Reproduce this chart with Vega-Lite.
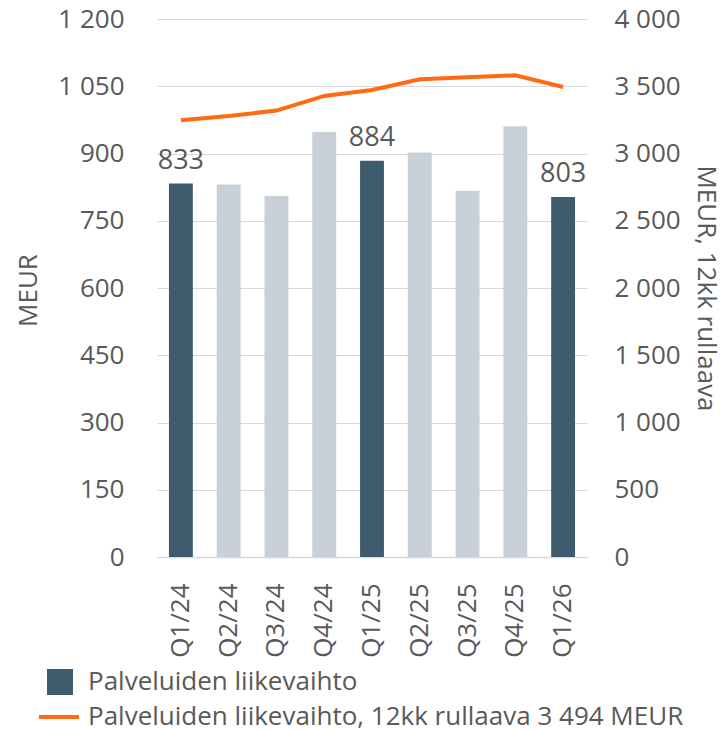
{
  "$schema": "https://vega.github.io/schema/vega-lite/v6.json",
  "width": 430,
  "height": 538,
  "autosize": {"type": "none"},
  "padding": {"left": 157, "top": 19, "right": 138, "bottom": 174},
  "config": {
    "font": "Open Sans",
    "view": {"stroke": null},
    "axis": {"labelFont": "Open Sans", "titleFont": "Open Sans", "labelColor": "#595959", "titleColor": "#595959", "labelFontSize": 26, "titleFontSize": 26, "titleFontWeight": "normal"},
    "legend": {"labelFont": "Open Sans", "labelFontSize": 26, "labelColor": "#595959", "labelLimit": 0}
  },
  "data": {"values": [
    {"q": "Q1/24", "v": 833, "r": 3247, "cat": "Palveluiden liikevaihto"},
    {"q": "Q2/24", "v": 831, "r": 3279, "cat": "muu"},
    {"q": "Q3/24", "v": 805, "r": 3319, "cat": "muu"},
    {"q": "Q4/24", "v": 948, "r": 3428, "cat": "muu"},
    {"q": "Q1/25", "v": 884, "r": 3472, "cat": "Palveluiden liikevaihto"},
    {"q": "Q2/25", "v": 902, "r": 3552, "cat": "muu"},
    {"q": "Q3/25", "v": 817, "r": 3567, "cat": "muu"},
    {"q": "Q4/25", "v": 961, "r": 3581, "cat": "muu"},
    {"q": "Q1/26", "v": 803, "r": 3494, "cat": "Palveluiden liikevaihto"}
  ]},
  "encoding": {
    "x": {"field": "q", "type": "nominal", "sort": null,
      "scale": {"paddingInner": 0.5, "paddingOuter": 0.25},
      "axis": {"title": null, "labelAngle": 270, "labelAlign": "right", "labelBaseline": "middle", "labelPadding": 26, "labelFontSize": 26, "ticks": false, "domainColor": "#d9d9d9", "domainWidth": 1.5, "grid": false}}
  },
  "layer": [
    {
      "layer": [
        {
          "mark": {"type": "bar"},
          "encoding": {
            "y": {"field": "v", "type": "quantitative", "scale": {"domain": [0, 1200], "nice": false},
              "axis": {"values": [0,150,300,450,600,750,900,1050,1200], "title": "MEUR", "titleAngle": -90, "titleX": -129, "titleY": 271, "titleAlign": "center", "titleBaseline": "middle", "labelPadding": 33, "ticks": false, "domain": false, "grid": true, "gridColor": "#d9d9d9", "gridWidth": 1,
                "labelExpr": "replace(format(datum.value, ','), ',', ' ')"}},
            "fill": {"field": "cat", "type": "nominal",
              "scale": {"domain": ["Palveluiden liikevaihto", "muu"], "range": ["#3f5b6e", "#c9d0d7"]},
              "legend": {"values": ["Palveluiden liikevaihto"], "title": null, "orient": "none", "legendX": -110, "legendY": 650, "symbolType": "square", "symbolSize": 676, "symbolStrokeWidth": 0, "labelOffset": 15}}
          }
        },
        {
          "transform": [{"filter": "datum.cat == 'Palveluiden liikevaihto'"}],
          "mark": {"type": "text", "dy": -9, "baseline": "bottom", "fontSize": 27, "color": "#595959", "font": "Open Sans"},
          "encoding": {
            "y": {"field": "v", "type": "quantitative"},
            "text": {"field": "v", "type": "quantitative"}
          }
        }
      ]
    },
    {
      "mark": {"type": "line", "color": "#ff6a13", "strokeWidth": 4},
      "encoding": {
        "y": {"field": "r", "type": "quantitative", "scale": {"domain": [0, 4000], "nice": false},
          "axis": {"orient": "right", "values": [0,500,1000,1500,2000,2500,3000,3500,4000], "title": "MEUR, 12kk rullaava", "titleAngle": 90, "titleX": 118, "titleY": 269, "titleAlign": "center", "titleBaseline": "middle", "labelPadding": 27, "ticks": false, "domain": false, "grid": false,
            "labelExpr": "replace(format(datum.value, ','), ',', ' ')"}},
        "stroke": {"datum": "Palveluiden liikevaihto, 12kk rullaava 3 494 MEUR", "type": "nominal",
          "scale": {"range": ["#ff6a13"]},
          "legend": {"title": null, "orient": "none", "legendX": -120, "legendY": 676, "symbolType": "stroke", "symbolSize": 1600, "symbolStrokeWidth": 4, "labelOffset": 7}}
      }
    }
  ],
  "resolve": {"scale": {"y": "independent"}}
}
